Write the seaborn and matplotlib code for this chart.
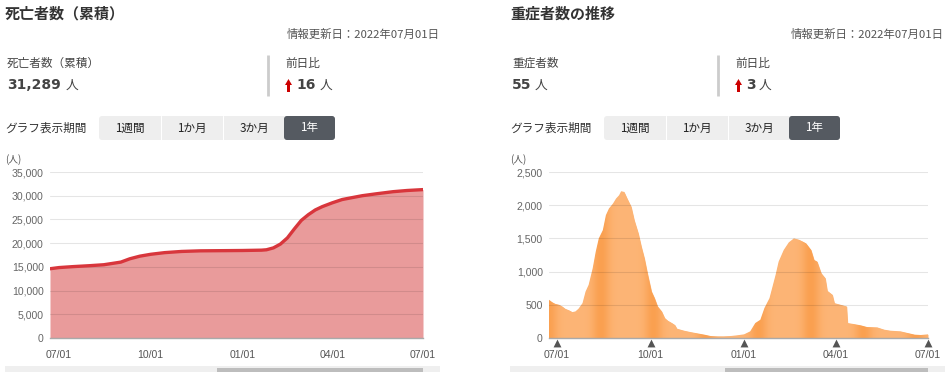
import numpy as np
import pandas as pd
import matplotlib
matplotlib.use("Agg")
import matplotlib.pyplot as plt
from matplotlib.patches import Rectangle, FancyBboxPatch, PathPatch, Polygon
from matplotlib.ticker import FuncFormatter, MultipleLocator
import seaborn as sns

death_dates = [
    "2021-06-22", "2021-07-01", "2021-07-15", "2021-08-01", "2021-08-15",
    "2021-09-01", "2021-09-10", "2021-09-20", "2021-10-01", "2021-10-15",
    "2021-11-01", "2021-11-20", "2021-12-15", "2022-01-01", "2022-01-20",
    "2022-01-25", "2022-02-01", "2022-02-08", "2022-02-15", "2022-02-22",
    "2022-03-01", "2022-03-08", "2022-03-15", "2022-03-22", "2022-04-01",
    "2022-04-11", "2022-05-01", "2022-05-15", "2022-06-01", "2022-06-15",
    "2022-07-01",
]
death_values = [
    14600, 14850, 15050, 15250, 15450,
    16000, 16700, 17250, 17650, 18000,
    18250, 18380, 18420, 18450, 18520,
    18600, 19000, 19800, 21100, 23000,
    24800, 26000, 27000, 27700, 28500,
    29200, 30000, 30400, 30850, 31100,
    31289,
]

severe_dates = [
    "2021-06-23", "2021-06-26", "2021-06-29", "2021-07-03", "2021-07-06",
    "2021-07-09", "2021-07-13", "2021-07-16", "2021-07-19", "2021-07-22",
    "2021-07-26", "2021-07-29", "2021-08-01", "2021-08-05", "2021-08-08",
    "2021-08-11", "2021-08-15", "2021-08-18", "2021-08-21", "2021-08-25",
    "2021-08-28", "2021-08-31", "2021-09-02", "2021-09-05", "2021-09-08",
    "2021-09-12", "2021-09-15", "2021-09-19", "2021-09-22", "2021-09-25",
    "2021-09-28", "2021-10-02", "2021-10-05", "2021-10-08", "2021-10-12",
    "2021-10-15", "2021-10-18", "2021-10-22", "2021-10-25", "2021-10-27",
    "2021-11-03", "2021-11-09", "2021-11-16", "2021-11-23", "2021-11-29",
    "2021-12-06", "2021-12-12", "2021-12-19", "2021-12-25", "2022-01-01",
    "2022-01-07", "2022-01-12", "2022-01-17", "2022-01-21", "2022-01-26",
    "2022-01-29", "2022-02-01", "2022-02-04", "2022-02-09", "2022-02-14",
    "2022-02-19", "2022-02-24", "2022-02-28", "2022-03-03", "2022-03-08",
    "2022-03-11", "2022-03-14", "2022-03-18", "2022-03-22", "2022-03-24",
    "2022-03-29", "2022-03-31", "2022-04-06", "2022-04-12", "2022-04-13",
    "2022-04-19", "2022-04-26", "2022-05-02", "2022-05-12", "2022-05-19",
    "2022-05-25", "2022-06-04", "2022-06-11", "2022-06-18", "2022-06-24",
    "2022-07-01",
]
severe_values = [
    575, 540, 515, 500, 475,
    440, 415, 390, 400, 440,
    525, 700, 800, 1050, 1300,
    1500, 1625, 1850, 1950, 2025,
    2100, 2150, 2210, 2200, 2100,
    1975, 1775, 1575, 1375, 1200,
    975, 700, 600, 475, 400,
    300, 260, 225, 195, 140,
    110, 90, 70, 50, 30,
    25, 25, 30, 40, 55,
    100, 225, 275, 450, 600,
    775, 950, 1150, 1325, 1440,
    1500, 1480, 1450, 1425, 1325,
    1175, 1150, 975, 900, 710,
    650, 525, 500, 475, 225,
    210, 190, 165, 160, 125,
    110, 100, 75, 50, 45,
    55,
]

tick_dates = ["2021-07-01", "2021-10-01", "2022-01-01", "2022-04-01", "2022-07-01"]
tick_labels = ["07/01", "10/01", "01/01", "04/01", "07/01"]
periods = ["1週間", "1か月", "3か月", "1年"]
update_text = "情報更新日：2022年07月01日"

W, H = 949, 372

sns.set_theme(style="white")
plt.rcParams["font.family"] = ["Noto Sans CJK JP", "DejaVu Sans"]

fig = plt.figure(figsize=(W / 100, H / 100), dpi=100)
fig.patch.set_facecolor("white")

# pixel-space overlay for the page chrome
bg = fig.add_axes([0, 0, 1, 1])
bg.set_xlim(0, W)
bg.set_ylim(H, 0)
bg.axis("off")


def up_arrow(x):
    # small red arrow used for the day-over-day change
    bg.add_patch(Polygon([(x - 3.5, 85), (x + 3.5, 85), (x, 79)], closed=True,
                         facecolor="#cc0000", edgecolor="none"))
    bg.add_patch(Rectangle((x - 1.3, 84.5), 2.6, 7, facecolor="#cc0000", edgecolor="none"))


def panel_header(ox, title, label, value, unit_x, sep_x, diff, diff_x, date_right):
    bg.text(ox, 14, title, fontsize=10.8, fontweight="bold", color="#333333", va="center")
    bg.text(date_right, 34, update_text, fontsize=8.2, color="#555555", va="center", ha="right")
    bg.text(ox + 2, 63, label, fontsize=8.4, color="#444444", va="center")
    bg.text(ox + 2, 85, value, fontsize=10, fontweight="bold", color="#444444",
            va="center", family="DejaVu Sans")
    bg.text(unit_x, 85, "人", fontsize=9.2, color="#444444", va="center")
    bg.plot([sep_x, sep_x], [55, 96], color="#cccccc", lw=2, solid_capstyle="butt")
    bg.text(sep_x + 17, 63, "前日比", fontsize=8.4, color="#444444", va="center")
    up_arrow(sep_x + 20.5)
    bg.text(sep_x + 28, 85, diff, fontsize=10, fontweight="bold", color="#444444",
            va="center", family="DejaVu Sans")
    bg.text(diff_x, 85, "人", fontsize=9.2, color="#444444", va="center")

    # period selector
    bg.text(ox, 128, "グラフ表示期間", fontsize=8.4, color="#333333", va="center")
    bx = ox + 94
    bg.add_patch(FancyBboxPatch((bx, 116), 236, 24, boxstyle="round,pad=0,rounding_size=3",
                                facecolor="#eeeeee", edgecolor="none"))
    bg.add_patch(FancyBboxPatch((bx + 185, 116), 51, 24, boxstyle="round,pad=0,rounding_size=3",
                                facecolor="#555a61", edgecolor="none"))
    for sx in [bx + 62, bx + 124]:
        bg.plot([sx, sx], [116, 140], color="white", lw=0.8)
    centers = [bx + 31, bx + 93, bx + 155, bx + 210]
    for i, (cx, name) in enumerate(zip(centers, periods)):
        bg.text(cx, 128, name, fontsize=8.4, va="center", ha="center",
                color="white" if i == 3 else "#222222")

    bg.text(ox, 160, "(人)", fontsize=7, color="#555555", va="center")

    # scrollbar under the chart
    bg.add_patch(Rectangle((ox, 366), 435, 6, facecolor="#efefef", edgecolor="none"))


def style_chart(ax, x_start, step, top):
    ax.patch.set_alpha(0)
    ax.set_xlim(pd.Timestamp(x_start), pd.Timestamp("2022-07-01"))
    ax.set_ylim(0, top)
    ax.yaxis.set_major_locator(MultipleLocator(step))
    ax.yaxis.set_major_formatter(FuncFormatter(lambda v, p: f"{int(v):,}"))
    ax.set_xticks(pd.to_datetime(tick_dates))
    ax.set_xticklabels(tick_labels)
    ax.set_axisbelow(False)
    ax.yaxis.grid(True, color="black", alpha=0.1, lw=0.8)
    ax.xaxis.grid(False)
    for s in ["top", "right", "left"]:
        ax.spines[s].set_visible(False)
    ax.spines["bottom"].set_color("#aaaaaa")
    ax.spines["bottom"].set_linewidth(1)
    ax.tick_params(axis="y", length=3, width=0.8, color="#dddddd", pad=1.5,
                   labelsize=7.6, labelcolor="#666666")
    ax.tick_params(axis="x", length=0, pad=9, labelsize=7.6, labelcolor="#555555")
    for lab in ax.get_xticklabels() + ax.get_yticklabels():
        lab.set_family("Liberation Sans")
    ax.set_xlabel("")
    ax.set_ylabel("")


def chart_axes(x0, x1, y0=172, y1=338):
    return fig.add_axes([x0 / W, 1 - y1 / H, (x1 - x0) / W, (y1 - y0) / H])


# ---- left: cumulative deaths ----
panel_header(5, "死亡者数（累積）", "死亡者数（累積）", "31,289", 66, 268, "16", 320, 440)
bg.add_patch(Rectangle((217, 368), 206, 4, facecolor="#bdbdbd", edgecolor="none"))

deaths = pd.DataFrame({"date": pd.to_datetime(death_dates), "value": death_values})
ax1 = chart_axes(50, 423)
ax1.fill_between(deaths["date"], deaths["value"], color="#e99b9b", lw=0, zorder=1)
sns.lineplot(data=deaths, x="date", y="value", ax=ax1, color="#d8363c",
             linewidth=2.4, zorder=3)
style_chart(ax1, "2021-06-22", 5000, 35000)

# ---- right: severe cases ----
panel_header(510, "重症者数の推移", "重症者数", "55", 535, 718, "3", 759, 944)
bg.add_patch(Rectangle((725, 368), 203, 4, facecolor="#bdbdbd", edgecolor="none"))

severe = pd.DataFrame({"date": pd.to_datetime(severe_dates), "value": severe_values})
ax2 = chart_axes(549, 928)
poly = ax2.fill_between(severe["date"], severe["value"], color="#fdb576", lw=0, zorder=1)
style_chart(ax2, "2021-06-23", 500, 2500)

# vertical banding inside the orange area
light = np.array([253, 181, 118]) / 255
dark = np.array([250, 160, 80]) / 255
xpix = 549 + np.arange(379) + 0.5
d = ((xpix - 601) / 52.5) % 1.0
d = np.where(d > 0.5, d - 1, d)
w = np.exp(-(d / 0.17) ** 2)
img = (light[None, :] * (1 - w[:, None]) + dark[None, :] * w[:, None])[None, :, :]
x0n, x1n = ax2.get_xlim()
clip = PathPatch(poly.get_paths()[0], transform=ax2.transData,
                 facecolor="none", edgecolor="none")
ax2.add_patch(clip)
im = ax2.imshow(img, extent=[x0n, x1n, 0, 2500], aspect="auto", zorder=1.5,
                interpolation="bilinear")
im.set_clip_path(clip)
ax2.set_xlim(x0n, x1n)
ax2.set_ylim(0, 2500)

# tick markers under the axis
ax2.scatter(pd.to_datetime(tick_dates), [-0.032] * len(tick_dates), marker="^", s=32,
            color="#555555", transform=ax2.get_xaxis_transform(), clip_on=False,
            zorder=5, linewidths=0)

fig.savefig("out.png", dpi=100)
